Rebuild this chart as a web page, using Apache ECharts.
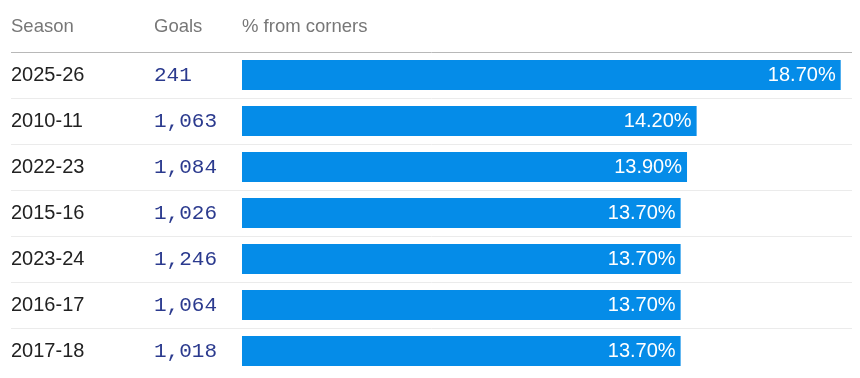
<!DOCTYPE html>
<html>
<head>
<meta charset="utf-8">
<script src="https://cdn.jsdelivr.net/npm/echarts@6/dist/echarts.min.js"></script>
<style>html,body{margin:0;padding:0;background:#fff}#c{width:860px;height:378px}</style>
</head>
<body>
<div id="c"></div>
<script>
const seasons = ['2025-26','2010-11','2022-23','2015-16','2023-24','2016-17','2017-18'];
const goals = [241, 1063, 1084, 1026, 1246, 1064, 1018];
const pctFromCorners = [18.7, 14.2, 13.9, 13.7, 13.7, 13.7, 13.7];
const headers = ['Season', 'Goals', '% from corners'];

const chart = echarts.init(document.getElementById('c'), null, {renderer: 'canvas'});
const FONT = '"Liberation Sans", Arial, sans-serif';
const sepColors = ['#b8b8b8'];
for (let i = 1; i < seasons.length; i++) sepColors.push('#ebebeb');
sepColors.push('rgba(0,0,0,0)');
const headStyle = {fontFamily: FONT, fontSize: 18.5, fontWeight: 'normal', color: '#777'};

chart.setOption({
  animation: false,
  textStyle: {fontFamily: FONT},
  title: [
    {text: headers[0], left: 11, top: 17, padding: 0, textStyle: headStyle},
    {text: headers[1], left: 154, top: 17, padding: 0, textStyle: headStyle},
    {text: headers[2], left: 242, top: 17, padding: 0, textStyle: headStyle}
  ],
  grid: {left: 11, right: 8, top: 52, bottom: 4, containLabel: false},
  xAxis: {type: 'value', min: -7.215, max: 19.053, show: false},
  yAxis: {
    type: 'category',
    inverse: true,
    data: seasons,
    axisLine: {show: false, onZero: false},
    axisTick: {show: false},
    splitLine: {show: true, lineStyle: {color: sepColors, width: 1}},
    axisLabel: {
      inside: true,
      margin: 0,
      formatter: function (v, i) {
        return '{s|' + v + '}{g|' + goals[i].toLocaleString('en-US') + '}';
      },
      rich: {
        s: {width: 143, fontFamily: FONT, fontSize: 20, color: '#222'},
        g: {fontFamily: '"Liberation Mono", monospace', fontSize: 21, color: '#2b3a8e'}
      }
    }
  },
  series: [{
    type: 'bar',
    data: pctFromCorners,
    barWidth: 30,
    itemStyle: {color: '#058ce8'},
    label: {
      show: true,
      position: 'insideRight',
      distance: 5,
      color: '#fff',
      fontFamily: FONT,
      fontSize: 20,
      formatter: p => p.value.toFixed(2) + '%'
    }
  }]
});
</script>
</body>
</html>
